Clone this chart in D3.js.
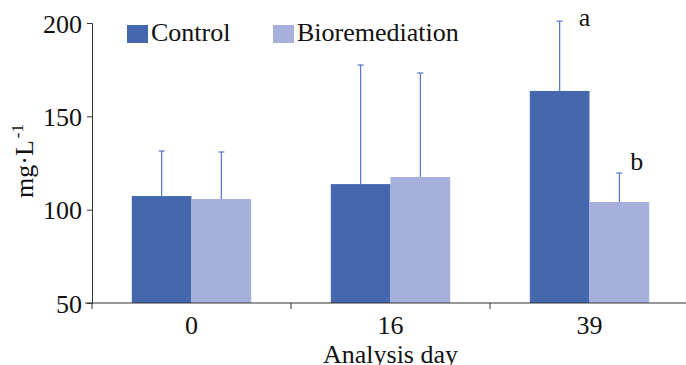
<!DOCTYPE html>
<html>
<head>
<meta charset="utf-8">
<script src="https://cdn.jsdelivr.net/npm/d3@7"></script>
<style>
  body { margin: 0; background: #fff; }
  svg text { font-family: "Liberation Serif", "Times New Roman", serif; fill: #111; }
</style>
</head>
<body>
<div id="chart"></div>
<script>
// data
var days = ["0", "16", "39"];
var series = ["Control", "Bioremediation"];
var control = [107.3, 113.7, 163.6];
var controlErr = [24.1, 63.8, 37.4];
var bio = [105.7, 117.5, 104.1];
var bioErr = [25.2, 55.7, 15.5];
var letters = [["", ""], ["", ""], ["a", "b"]];
var yTicks = [50, 100, 150, 200];
var colors = ["#4467ae", "#a7b0da"];

var W = 686, H = 365;
var margin = {left: 92, right: -3, top: 23, bottom: 62};
var width = W - margin.left - margin.right;
var height = H - margin.top - margin.bottom;
var fs = "26px";

var svg = d3.select("#chart").append("svg")
  .attr("width", W).attr("height", H);

var g = svg.append("g")
  .attr("transform", "translate(" + margin.left + "," + margin.top + ")");

var x0 = d3.scaleBand().domain(days).range([0, width]).paddingInner(0.4).paddingOuter(0.2);
var x1 = d3.scaleBand().domain(series).range([0, x0.bandwidth()]);
var y = d3.scaleLinear().domain([50, 200]).range([height, 0]);

// build rows for drawing
var rows = days.map(function(d, i) {
  return [
    {day: d, s: series[0], v: control[i], e: controlErr[i], c: colors[0], lab: letters[i][0], dx: 19, dy: 5},
    {day: d, s: series[1], v: bio[i], e: bioErr[i], c: colors[1], lab: letters[i][1], dx: 11, dy: -3}
  ];
});
var flat = [].concat.apply([], rows);
function cx(d) { return x0(d.day) + x1(d.s) + x1.bandwidth() / 2; }

g.selectAll(".bar")
  .data(flat)
  .enter().append("rect")
  .attr("x", function(d) { return x0(d.day) + x1(d.s); })
  .attr("y", function(d) { return y(d.v); })
  .attr("width", x1.bandwidth())
  .attr("height", function(d) { return height - y(d.v); })
  .attr("fill", function(d) { return d.c; });

// error bars, upward only
var eb = g.selectAll(".err").data(flat).enter().append("g")
  .attr("stroke", "#5575c2").attr("stroke-width", 1.2);
eb.append("line")
  .attr("x1", cx).attr("x2", cx)
  .attr("y1", function(d) { return y(d.v); })
  .attr("y2", function(d) { return y(d.v + d.e); });
eb.append("line")
  .attr("x1", function(d) { return cx(d) - 3; })
  .attr("x2", function(d) { return cx(d) + 3; })
  .attr("y1", function(d) { return y(d.v + d.e); })
  .attr("y2", function(d) { return y(d.v + d.e); });

// significance letters
g.selectAll(".lab").data(flat.filter(function(d) { return d.lab; }))
  .enter().append("text")
  .attr("x", function(d) { return cx(d) + d.dx; })
  .attr("y", function(d) { return y(d.v + d.e) + d.dy; })
  .attr("font-size", fs)
  .text(function(d) { return d.lab; });

// axes
var yAxis = d3.axisLeft(y).tickValues(yTicks).tickSize(5).tickPadding(5);
var ya = g.append("g").call(yAxis);
ya.selectAll("text").attr("font-size", fs).attr("dy", "0.35em").style("font-family", "Liberation Serif").style("fill", "#111");
ya.select(".domain").attr("stroke", "#333");
ya.selectAll(".tick line").attr("stroke", "#333");

var xa = g.append("g").attr("transform", "translate(0," + height + ")");
xa.append("line").attr("x1", -7).attr("x2", width).attr("stroke", "#333");
xa.selectAll(".tk").data(d3.range(days.length + 1))
  .enter().append("line")
  .attr("x1", function(i) { return i * x0.step(); })
  .attr("x2", function(i) { return i * x0.step(); })
  .attr("y1", 0).attr("y2", 6)
  .attr("stroke", "#333");
xa.selectAll(".tl").data(days).enter().append("text")
  .attr("x", function(d) { return x0(d) + x0.bandwidth() / 2; })
  .attr("y", 31)
  .attr("text-anchor", "middle")
  .attr("font-size", fs)
  .text(function(d) { return d; });

// axis titles
svg.append("text")
  .attr("x", margin.left + x0(days[1]) + x0.bandwidth() / 2)
  .attr("y", 363)
  .attr("text-anchor", "middle")
  .attr("font-size", fs)
  .text("Analysis day");

var yl = svg.append("text")
  .attr("transform", "translate(33,161) rotate(-90)")
  .attr("text-anchor", "middle")
  .attr("font-size", fs);
yl.append("tspan").text("mg·L");
yl.append("tspan").attr("dx", "2").attr("dy", "-10").attr("font-size", "17px").text("-1");

// legend
var leg = svg.selectAll(".leg").data(series).enter().append("g")
  .attr("transform", function(d, i) { return "translate(" + (127 + i * 146) + ",25)"; });
leg.append("rect").attr("width", 21).attr("height", 18)
  .attr("fill", function(d, i) { return colors[i]; });
leg.append("text").attr("x", 24).attr("y", 16)
  .attr("font-size", fs)
  .text(function(d) { return d; });
</script>
</body>
</html>
